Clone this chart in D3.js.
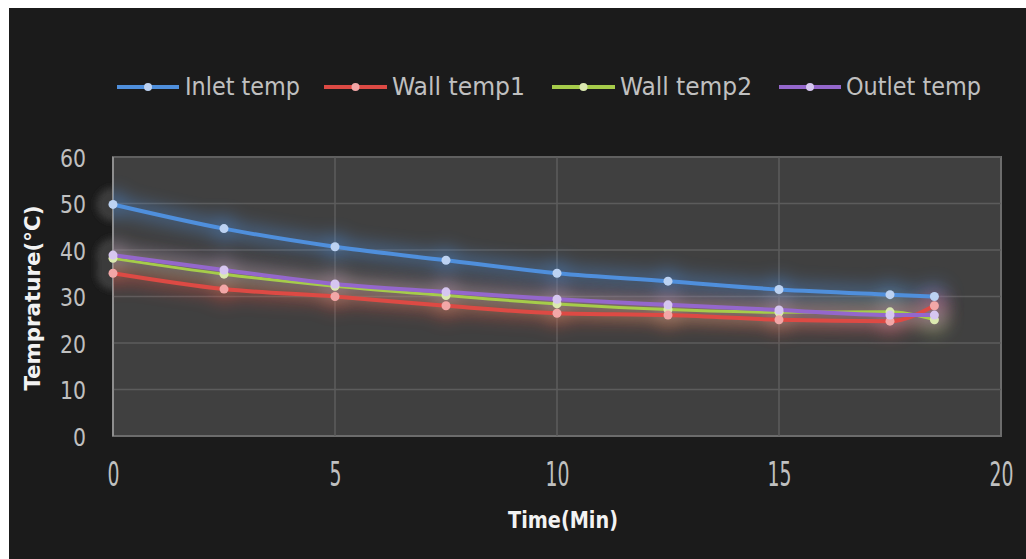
<!DOCTYPE html>
<html><head><meta charset="utf-8">
<script src="https://cdn.jsdelivr.net/npm/d3@7"></script>
<style>html,body{margin:0;padding:0;background:#fff;}svg{display:block;}</style>
</head><body>
<svg id="chart" width="1026" height="559"></svg>
<script>
const times = [0, 2.5, 5, 7.5, 10, 12.5, 15, 17.5, 18.5];
const inletTemp = [49.8, 44.6, 40.7, 37.8, 35.0, 33.3, 31.5, 30.4, 30.0];
const wallTemp1 = [35.0, 31.6, 30.0, 28.0, 26.4, 26.0, 25.0, 24.7, 28.0];
const wallTemp2 = [38.2, 34.8, 32.2, 30.2, 28.4, 27.2, 26.6, 26.7, 25.0];
const outletTemp = [38.9, 35.7, 32.7, 31.0, 29.4, 28.2, 27.1, 26.0, 26.0];
const seriesNames = ["Inlet temp", "Wall temp1", "Wall temp2", "Outlet temp"];
const xTicks = [0, 5, 10, 15, 20];
const yTicks = [0, 10, 20, 30, 40, 50, 60];

const colors = ["#4f8fdc", "#dd4a44", "#a6cc4a", "#9467cc"];
const markerColors = ["#bcd2f2", "#f2a7a7", "#dbe9b0", "#d6c6f0"];
const seriesValues = [inletTemp, wallTemp1, wallTemp2, outletTemp];

const svg = d3.select("#chart");
const L = 113, R = 1001, T = 157, B = 436;
const x = d3.scaleLinear().domain([0, 20]).range([L, R]);
const y = d3.scaleLinear().domain([0, 60]).range([B, T]);

const defs = svg.append("defs");
const f1 = defs.append("filter").attr("id", "glow").attr("x", "-50%").attr("y", "-50%").attr("width", "200%").attr("height", "200%");
f1.append("feGaussianBlur").attr("stdDeviation", 9);
const f2 = defs.append("filter").attr("id", "blob").attr("x", "-50%").attr("y", "-50%").attr("width", "200%").attr("height", "200%");
f2.append("feGaussianBlur").attr("stdDeviation", 3);
defs.append("clipPath").attr("id", "plotclip").append("rect")
  .attr("x", L).attr("y", T).attr("width", R - L + 1).attr("height", B - T);

// background frame
svg.append("rect").attr("x", 9).attr("y", 8).attr("width", 1017).attr("height", 551).attr("fill", "#1b1b1b");

// gray glow blobs spilling left of plot at first markers
const blobs = svg.append("g").attr("filter", "url(#blob)");
seriesValues.forEach(s => {
  blobs.append("circle").attr("cx", x(0)).attr("cy", y(s[0])).attr("r", 17).attr("fill", "#3b3b3b");
});

// plot area
svg.append("rect").attr("x", L).attr("y", T).attr("width", R - L).attr("height", B - T)
  .attr("fill", "#404040").attr("stroke", "#6c6c6c").attr("stroke-width", 2);

// grid
const grid = svg.append("g");
grid.selectAll("line.h").data(yTicks.filter(d => d > 0)).join("line")
  .attr("x1", L).attr("x2", R).attr("y1", d => y(d)).attr("y2", d => y(d))
  .attr("stroke", "#5c5c5c").attr("stroke-width", 1.5);
grid.selectAll("line.v").data(xTicks.filter(d => d > 0 && d < 20)).join("line")
  .attr("y1", T).attr("y2", B).attr("x1", d => x(d)).attr("x2", d => x(d))
  .attr("stroke", "#5c5c5c").attr("stroke-width", 1.5);
svg.append("line").attr("x1", L).attr("x2", L).attr("y1", T).attr("y2", B)
  .attr("stroke", "#9a9a9a").attr("stroke-width", 1.5);

const line = d3.line().x((d, i) => x(times[i])).y(d => y(d)).curve(d3.curveMonotoneX);

// glows
const glowG = svg.append("g").attr("clip-path", "url(#plotclip)");
seriesValues.forEach((s, k) => {
  const g = glowG.append("g").attr("filter", "url(#glow)").attr("opacity", 0.55);
  g.append("path").attr("d", line(s)).attr("fill", "none").attr("stroke", colors[k]).attr("stroke-width", 12);
  g.selectAll("circle").data(s).join("circle")
    .attr("cx", (d, i) => x(times[i])).attr("cy", d => y(d)).attr("r", 12).attr("fill", colors[k]);
});

// lines
const order = [2, 1, 3, 0];
order.forEach(k => {
  svg.append("path").attr("d", line(seriesValues[k])).attr("fill", "none")
    .attr("stroke", colors[k]).attr("stroke-width", k === 2 ? 3 : 4).attr("stroke-linejoin", "round");
});
order.forEach(k => {
  svg.append("g").selectAll("circle").data(seriesValues[k]).join("circle")
    .attr("cx", (d, i) => x(times[i])).attr("cy", d => y(d)).attr("r", 4.5)
    .attr("fill", markerColors[k]);
});

const font = "'DejaVu Sans Condensed','Liberation Sans Narrow','Liberation Sans',sans-serif";

// y axis labels
const yAxis = d3.axisLeft(y).tickValues(yTicks).tickSize(0).tickPadding(0);
const ya = svg.append("g").attr("transform", "translate(86,0)").call(yAxis);
ya.select(".domain").remove();
ya.selectAll("text").attr("font-family", font).attr("font-size", 25).attr("fill", "#c0c0c0")
  .attr("dy", "0.36em").attr("textLength", d => String(d).length * 13).attr("lengthAdjust", "spacingAndGlyphs");

// x axis labels
const xAxis = d3.axisBottom(x).tickValues(xTicks).tickSize(0).tickPadding(0);
const xa = svg.append("g").attr("transform", "translate(0,463)").call(xAxis);
xa.select(".domain").remove();
xa.selectAll("text").attr("font-family", font).attr("font-size", 33).attr("fill", "#c0c0c0")
  .attr("dy", "0.71em").attr("textLength", d => String(d).length * 12).attr("lengthAdjust", "spacingAndGlyphs");

// axis titles
svg.append("text").attr("x", 563).attr("y", 528).attr("text-anchor", "middle")
  .attr("font-family", font).attr("font-weight", "bold").attr("font-size", 23).attr("fill", "#f2f2f2")
  .attr("textLength", 110).attr("lengthAdjust", "spacingAndGlyphs").text("Time(Min)");
svg.append("text").attr("transform", "translate(40,298) rotate(-90)").attr("text-anchor", "middle")
  .attr("font-family", font).attr("font-weight", "bold").attr("font-size", 21).attr("fill", "#f2f2f2")
  .attr("textLength", 185).attr("lengthAdjust", "spacingAndGlyphs").text("Temprature(\u00B0C)");

// legend
const legendItems = [
  {x1: 117, x2: 179, tx: 185, tw: 115},
  {x1: 324, x2: 387, tx: 392, tw: 133},
  {x1: 552, x2: 615, tx: 620, tw: 132},
  {x1: 779, x2: 841, tx: 846, tw: 135}
];
const lg = svg.append("g");
legendItems.forEach((it, k) => {
  lg.append("line").attr("x1", it.x1).attr("x2", it.x2).attr("y1", 87).attr("y2", 87)
    .attr("stroke", colors[k]).attr("stroke-width", 4);
  lg.append("circle").attr("cx", (it.x1 + it.x2) / 2).attr("cy", 87).attr("r", 4).attr("fill", markerColors[k]);
  lg.append("text").attr("x", it.tx).attr("y", 95).attr("font-family", font).attr("font-size", 24)
    .attr("fill", "#c0c0c0").attr("textLength", it.tw).attr("lengthAdjust", "spacingAndGlyphs")
    .text(seriesNames[k]);
});
</script>
</body></html>
